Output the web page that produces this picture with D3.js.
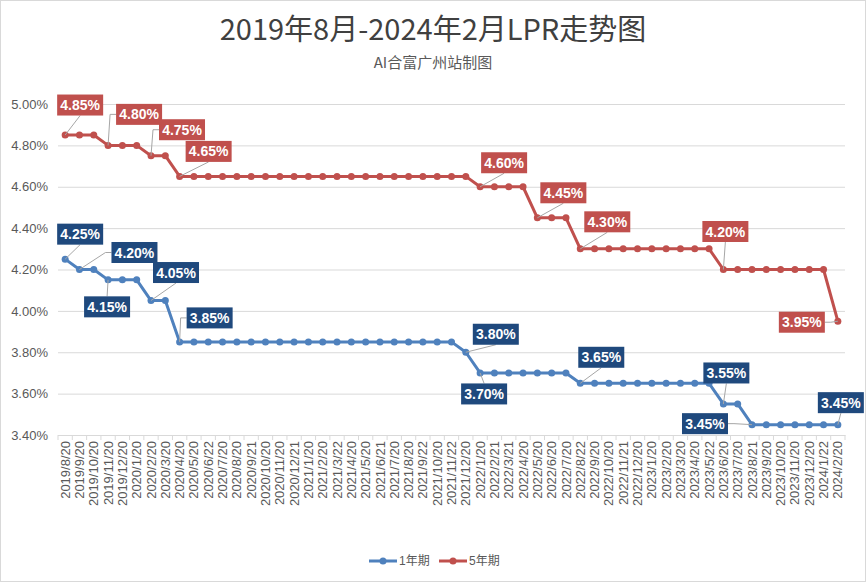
<!DOCTYPE html>
<meta charset="utf-8">
<script src="https://d3js.org/d3.v7.min.js"></script>
<style>
  body { margin: 0; background: #fff; }
  text { font-family: "Liberation Sans", "Noto Sans CJK SC", sans-serif; }
</style>
<div id="chart"></div>
<script>

// data
var dates = ["2019/8/20","2019/9/20","2019/10/20","2019/11/20","2019/12/20",
  "2020/1/20","2020/2/20","2020/3/20","2020/4/20","2020/5/20","2020/6/22","2020/7/20",
  "2020/8/20","2020/9/21","2020/10/20","2020/11/20","2020/12/21",
  "2021/1/20","2021/2/20","2021/3/22","2021/4/20","2021/5/20","2021/6/21","2021/7/20",
  "2021/8/20","2021/9/22","2021/10/20","2021/11/22","2021/12/20",
  "2022/1/20","2022/2/21","2022/3/21","2022/4/20","2022/5/20","2022/6/20","2022/7/20",
  "2022/8/22","2022/9/20","2022/10/20","2022/11/21","2022/12/20",
  "2023/1/20","2023/2/20","2023/3/20","2023/4/20","2023/5/22","2023/6/20","2023/7/20",
  "2023/8/21","2023/9/20","2023/10/20","2023/11/20","2023/12/20",
  "2024/1/22","2024/2/20"];

var lpr1y = [4.25,4.20,4.20,4.15,4.15,
  4.15,4.05,4.05,3.85,3.85,3.85,3.85,3.85,3.85,3.85,3.85,3.85,
  3.85,3.85,3.85,3.85,3.85,3.85,3.85,3.85,3.85,3.85,3.85,3.80,
  3.70,3.70,3.70,3.70,3.70,3.70,3.70,3.65,3.65,3.65,3.65,3.65,
  3.65,3.65,3.65,3.65,3.65,3.55,3.55,3.45,3.45,3.45,3.45,3.45,
  3.45,3.45];

var lpr5y = [4.85,4.85,4.85,4.80,4.80,
  4.80,4.75,4.75,4.65,4.65,4.65,4.65,4.65,4.65,4.65,4.65,4.65,
  4.65,4.65,4.65,4.65,4.65,4.65,4.65,4.65,4.65,4.65,4.65,4.65,
  4.60,4.60,4.60,4.60,4.45,4.45,4.45,4.30,4.30,4.30,4.30,4.30,
  4.30,4.30,4.30,4.30,4.30,4.20,4.20,4.20,4.20,4.20,4.20,4.20,
  4.20,3.95];

var yTicks = [3.40,3.60,3.80,4.00,4.20,4.40,4.60,4.80,5.00];

// which points get a label, and where the label box sits relative to the point
// a = side of the box the leader line attaches to
var labels1y = [
  {i: 0, dx: 15, dy: -25, a: "b"}, {i: 1, dx: 55, dy: -17, a: "l"},
  {i: 3, dx: -1, dy: 27, a: "t"}, {i: 6, dx: 25, dy: -28, a: "b"},
  {i: 8, dx: 30, dy: -24, a: "l"}, {i: 28, dx: 30, dy: -18, a: "b"},
  {i: 29, dx: 4, dy: 21, a: "t"}, {i: 36, dx: 21, dy: -26, a: "b"},
  {i: 46, dx: 3, dy: -31, a: "b"}, {i: 48, dx: -47, dy: -1, a: "r"},
  {i: 54, dx: 3, dy: -22, a: "b"}];
var labels5y = [
  {i: 0, dx: 15, dy: -30, a: "b"}, {i: 3, dx: 31, dy: -31, a: "l"},
  {i: 6, dx: 31, dy: -26, a: "l"}, {i: 8, dx: 29, dy: -25, a: "b"},
  {i: 29, dx: 24, dy: -24, a: "b"}, {i: 33, dx: 26, dy: -25, a: "b"},
  {i: 36, dx: 27, dy: -27, a: "b"}, {i: 46, dx: 2, dy: -38, a: "b"},
  {i: 54, dx: -36, dy: 1, a: "r"}];

var W = 866, H = 582;
var plotL = 58, plotR = 845, plotT = 104, plotB = 435;

var svg = d3.select("#chart").append("svg")
  .attr("width", W).attr("height", H);

svg.append("rect")
  .attr("x", 0.5).attr("y", 0.5)
  .attr("width", W - 1).attr("height", H - 1)
  .attr("fill", "#fff").attr("stroke", "#d9d9d9");

// titles
svg.append("text")
  .attr("x", W / 2).attr("y", 40)
  .attr("text-anchor", "middle")
  .style("font-family", "'Noto Sans CJK SC', sans-serif")
  .style("font-size", "29px")
  .attr("fill", "#404040")
  .text("2019年8月-2024年2月LPR走势图");

svg.append("text")
  .attr("x", W / 2).attr("y", 68)
  .attr("text-anchor", "middle")
  .style("font-family", "'Noto Sans CJK SC', sans-serif")
  .style("font-size", "15px")
  .attr("fill", "#595959")
  .text("AI合富广州站制图");

// scales
var x = d3.scaleBand().domain(dates).range([plotL, plotR]).padding(0);
var y = d3.scaleLinear().domain([3.4, 5.0]).range([plotB, plotT]);
var cx = function(i) { return x(dates[i]) + x.bandwidth() / 2; };

// gridlines + y labels
svg.append("g")
  .attr("transform", "translate(" + plotL + ",0)")
  .call(d3.axisLeft(y).tickValues(yTicks)
    .tickSize(-(plotR - plotL)).tickPadding(10)
    .tickFormat(function(d) { return d.toFixed(2) + "%"; }))
  .call(function(g) {
    g.select(".domain").remove();
    g.selectAll(".tick line").attr("stroke", "#d9d9d9");
    g.selectAll(".tick text").attr("fill", "#595959")
      .style("font-size", "13px");
  });

// x axis
var xAxis = svg.append("g")
  .attr("transform", "translate(0," + plotB + ")")
  .call(d3.axisBottom(x).tickSize(0).tickPadding(0));
xAxis.select(".domain").attr("stroke", "#d9d9d9");
xAxis.selectAll(".tick text")
  .attr("fill", "#595959")
  .style("font-size", "13px")
  .attr("text-anchor", "end")
  .attr("transform", "translate(0,6) rotate(-90)")
  .attr("x", 0).attr("y", 0).attr("dy", "0.35em");

// tick marks on band edges
svg.append("g").selectAll("line")
  .data(dates.concat(["end"]))
  .join("line")
    .attr("x1", function(d, i) { return i < dates.length ? x(d) : plotR; })
    .attr("x2", function(d, i) { return i < dates.length ? x(d) : plotR; })
    .attr("y1", plotB).attr("y2", plotB + 5)
    .attr("stroke", "#d9d9d9");

var series = [
  {key: "1年期", values: lpr1y, color: "#4f81bd", box: "#1f497d", labels: labels1y},
  {key: "5年期", values: lpr5y, color: "#c0504d", box: "#c0504d", labels: labels5y}
];

var line = d3.line()
  .x(function(d, i) { return cx(i); })
  .y(function(d) { return y(d); });

series.forEach(function(s) {
  svg.append("path")
    .attr("d", line(s.values))
    .attr("fill", "none")
    .attr("stroke", s.color)
    .attr("stroke-width", 3)
    .attr("stroke-linejoin", "round");

  svg.append("g").selectAll("circle")
    .data(s.values)
    .join("circle")
      .attr("cx", function(d, i) { return cx(i); })
      .attr("cy", function(d) { return y(d); })
      .attr("r", 3.5)
      .attr("fill", s.color);
});

// data labels with leader lines
var bw = 46, bh = 21;
series.forEach(function(s) {
  s.labels.forEach(function(l) {
    var px = cx(l.i), py = y(s.values[l.i]);
    var bx = px + l.dx, by = py + l.dy;
    var x0 = bx - bw / 2, x1 = bx + bw / 2, y0 = by - bh / 2, y1 = by + bh / 2;
    var pts;
    if (l.a === "b") pts = [[px, py], [bx, y1]];
    else if (l.a === "t") pts = [[px, py], [bx, y0]];
    else if (l.a === "l") pts = [[px, py], [x0 - 6, by], [x0, by]];
    else pts = [[px, py], [x1 + 6, by], [x1, by]];

    svg.append("path")
      .attr("d", d3.line()(pts))
      .attr("fill", "none")
      .attr("stroke", "#a6a6a6")
      .attr("stroke-width", 1);

    svg.append("rect")
      .attr("x", x0).attr("y", y0)
      .attr("width", bw).attr("height", bh)
      .attr("fill", s.box);

    svg.append("text")
      .attr("x", bx).attr("y", by)
      .attr("dy", "0.36em")
      .attr("text-anchor", "middle")
      .attr("fill", "#fff")
      .style("font-size", "14px")
      .style("font-weight", "bold")
      .text(s.values[l.i].toFixed(2) + "%");
  });
});

// legend
var legend = svg.append("g").attr("transform", "translate(369,561)");
series.forEach(function(s, k) {
  var g = legend.append("g").attr("transform", "translate(" + (k * 70) + ",0)");
  g.append("line").attr("x1", 0).attr("x2", 28)
    .attr("stroke", s.color).attr("stroke-width", 3);
  g.append("circle").attr("cx", 14).attr("r", 3.5).attr("fill", s.color);
  g.append("text").attr("x", 30).attr("dy", "0.36em")
    .attr("fill", "#595959")
    .style("font-size", "12px")
    .text(s.key);
});

</script>
